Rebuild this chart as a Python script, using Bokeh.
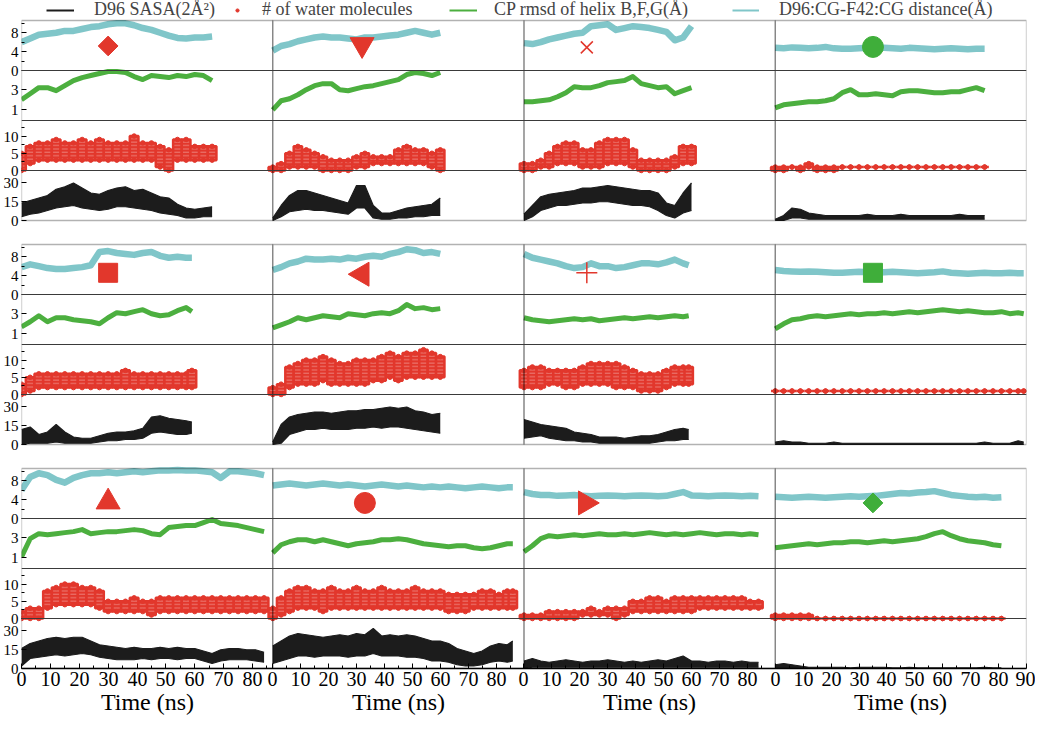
import math
from bokeh.plotting import figure
from bokeh.models import (Range1d, LinearAxis, FixedTicker, Legend, LegendItem,
                          BoxAnnotation, Span)
from bokeh.embed import file_html
from bokeh.resources import INLINE

FONT = "Liberation Serif"
C_SASA = "#1c1c1c"
C_WAT = "#e2372c"
C_RMSD = "#4caf3f"
C_DIST = "#80c6c9"
C_MARK_G = "#3fae3a"

LEGEND_LABELS = ["D96 SASA(2Å²)", "# of water molecules",
                 "CP rmsd of helix B,F,G(Å)", "D96:CG-F42:CG distance(Å)"]

# time axis tick labels for each column (ns)
X_TICKS_C123 = [0, 10, 20, 30, 40, 50, 60, 70, 80]
X_TICKS_C4 = [0, 10, 20, 30, 40, 50, 60, 70, 80, 90]
X_SPANS = [87, 90, 90, 90]

# ---------------- data (sampled every 3 ns, last point = end of run) --------
# Row 1
r1c1_end = 66
r1c1_dist = [6.0, 6.8, 7.6, 7.8, 8.0, 8.4, 8.4, 8.8, 9.2, 9.4, 9.8, 10.0, 10.0, 9.6, 9.0, 8.6, 8.0, 7.4, 6.9, 6.8, 7.0, 7.0, 7.2]
r1c1_rmsd = [2.0, 2.6, 3.2, 3.2, 2.9, 3.4, 3.9, 4.2, 4.4, 4.6, 4.8, 4.8, 4.7, 4.3, 4.0, 4.4, 4.3, 4.2, 4.4, 4.3, 4.5, 4.4, 3.9]
r1c1_wat_lo = [0, 2, 3, 3, 3, 3, 3, 3, 3, 3, 3, 3, 3, 3, 3, 3, 1, 0, 3, 3, 3, 3, 3]
r1c1_wat_hi = [5, 7, 8, 8, 9, 8, 8, 9, 8, 9, 8, 8, 8, 10, 8, 8, 7, 6, 9, 9, 7, 7, 7]
r1c1_sasa_lo = [3, 5, 6, 8, 10, 11, 12, 10, 9, 8, 9, 11, 11, 10, 9, 8, 6, 5, 4, 2, 2, 3, 3]
r1c1_sasa_hi = [14, 16, 18, 20, 25, 27, 30, 26, 22, 21, 24, 26, 27, 24, 25, 22, 19, 18, 13, 10, 9, 10, 11]

r1c2_end = 60
r1c2_dist = [4.2, 5.2, 5.6, 6.2, 6.6, 7.0, 7.2, 7.0, 7.0, 6.8, 6.6, 7.0, 7.0, 7.2, 7.4, 7.6, 8.0, 8.4, 8.0, 7.6, 8.0]
r1c2_rmsd = [1.0, 1.9, 2.1, 2.5, 3.0, 3.4, 3.6, 3.6, 3.0, 2.9, 3.1, 3.3, 3.4, 3.6, 3.8, 4.0, 4.5, 4.7, 4.6, 4.4, 4.7]
r1c2_wat_lo = [0, 0, 1, 1, 1, 1, 0, 0, 0, 0, 1, 1, 2, 2, 2, 2, 2, 2, 2, 1, 0]
r1c2_wat_hi = [1, 2, 5, 7, 6, 5, 4, 3, 3, 3, 4, 5, 4, 4, 4, 6, 7, 6, 6, 5, 6]
r1c2_sasa_lo = [0, 3, 7, 8, 9, 8, 8, 7, 6, 5, 10, 10, 2, 1, 1, 2, 2, 3, 3, 4, 4]
r1c2_sasa_hi = [2, 12, 20, 24, 24, 22, 20, 18, 16, 14, 28, 28, 12, 6, 6, 8, 10, 11, 12, 13, 18]

r1c3_end = 60
r1c3_dist = [5.8, 5.6, 6.0, 6.6, 7.0, 7.4, 7.8, 8.0, 9.4, 9.6, 9.8, 8.6, 9.0, 9.4, 9.2, 9.0, 8.6, 8.2, 6.4, 7.0, 9.4]
r1c3_rmsd = [1.8, 1.8, 1.9, 2.0, 2.3, 2.7, 3.3, 3.2, 3.2, 3.4, 3.7, 3.8, 3.9, 4.3, 3.6, 3.4, 3.2, 3.3, 2.6, 2.9, 3.2]
r1c3_wat_lo = [0, 0, 1, 1, 2, 2, 2, 1, 1, 1, 2, 2, 2, 1, 0, 0, 0, 0, 1, 2, 2]
r1c3_wat_hi = [2, 2, 3, 5, 7, 8, 8, 6, 6, 8, 9, 9, 9, 6, 3, 3, 3, 3, 4, 7, 7]
r1c3_sasa_lo = [0, 3, 8, 10, 12, 12, 13, 14, 14, 15, 15, 14, 13, 12, 12, 11, 8, 4, 2, 6, 8]
r1c3_sasa_hi = [5, 12, 19, 21, 22, 23, 24, 26, 26, 27, 28, 27, 26, 25, 24, 24, 22, 14, 12, 22, 30]

r1c4_end = 75
r1c4_dist = [4.8, 4.7, 4.9, 4.8, 4.7, 4.8, 5.0, 4.7, 4.6, 4.6, 4.7, 4.8, 4.9, 4.8, 4.7, 4.6, 4.8, 4.7, 4.6, 4.5, 4.6, 4.7, 4.6, 4.5, 4.6, 4.6]
r1c4_rmsd = [1.2, 1.5, 1.6, 1.7, 1.8, 1.8, 1.9, 2.1, 2.7, 3.0, 2.5, 2.5, 2.6, 2.5, 2.4, 2.8, 2.9, 2.9, 2.8, 2.7, 2.7, 2.8, 2.8, 3.0, 3.2, 2.9]
r1c4_wat_lo = [0, 0, 1, 0, 1, 0, 0, 0, 1, 1, 1, 1, 1, 1, 1, 1, 1, 1, 1, 1, 1, 1, 1, 1, 1, 1]
r1c4_wat_hi = [1, 1, 1, 1, 2, 1, 1, 1, 1, 1, 1, 1, 1, 1, 1, 1, 1, 1, 1, 1, 1, 1, 1, 1, 1, 1]
r1c4_sasa_lo = [0, 0, 2, 2, 1, 1, 1, 1, 1, 1, 1, 1, 1, 1, 1, 1, 1, 1, 1, 1, 1, 1, 1, 1, 1, 1]
r1c4_sasa_hi = [1, 4, 10, 9, 6, 5, 4, 4, 4, 4, 4, 5, 4, 4, 4, 5, 4, 4, 4, 4, 4, 4, 5, 4, 4, 4]

# Row 2
r2c1_end = 59
r2c1_dist = [5.8, 6.4, 6.0, 5.6, 5.4, 5.4, 5.6, 5.8, 6.2, 9.0, 9.2, 8.8, 8.6, 8.4, 8.8, 9.0, 8.2, 7.8, 8.0, 7.8, 7.8]
r2c1_rmsd = [1.7, 2.2, 2.8, 2.2, 2.6, 2.6, 2.4, 2.3, 2.2, 2.0, 2.6, 3.1, 3.0, 3.2, 3.4, 3.0, 2.8, 2.9, 3.3, 3.6, 3.2]
r2c1_wat_lo = [0, 1, 2, 2, 2, 2, 2, 2, 2, 2, 2, 2, 2, 2, 2, 2, 2, 2, 2, 2, 2]
r2c1_wat_hi = [3, 5, 6, 6, 6, 6, 6, 6, 6, 6, 6, 6, 7, 6, 6, 6, 6, 6, 6, 6, 7]
r2c1_sasa_lo = [0, 1, 1, 1, 2, 1, 1, 1, 1, 2, 3, 3, 4, 4, 5, 9, 10, 9, 8, 8, 9]
r2c1_sasa_hi = [12, 14, 8, 10, 16, 10, 6, 5, 5, 7, 9, 10, 10, 11, 13, 22, 23, 21, 20, 19, 18]

r2c2_end = 60
r2c2_dist = [5.2, 5.8, 6.6, 7.0, 7.6, 7.4, 7.4, 7.6, 7.4, 7.8, 7.6, 8.0, 8.2, 8.0, 8.6, 9.0, 9.6, 9.4, 8.8, 9.0, 8.6]
r2c2_rmsd = [1.6, 1.9, 2.2, 2.6, 2.4, 2.6, 2.8, 2.7, 2.6, 3.0, 2.9, 2.8, 3.0, 3.1, 3.0, 3.3, 3.9, 3.5, 3.6, 3.4, 3.5]
r2c2_wat_lo = [0, 0, 2, 3, 3, 3, 4, 3, 3, 3, 3, 3, 4, 4, 5, 4, 5, 5, 5, 5, 5]
r2c2_wat_hi = [2, 3, 8, 9, 10, 10, 11, 10, 9, 9, 10, 10, 10, 11, 12, 11, 12, 12, 13, 12, 11]
r2c2_sasa_lo = [0, 1, 8, 10, 12, 12, 13, 12, 12, 12, 13, 13, 14, 13, 14, 14, 13, 12, 11, 10, 9]
r2c2_sasa_hi = [2, 16, 22, 24, 25, 26, 26, 25, 26, 27, 27, 28, 28, 29, 30, 29, 30, 27, 26, 24, 25]

r2c3_end = 59
r2c3_dist = [8.6, 7.8, 7.4, 7.0, 6.6, 6.0, 5.6, 5.8, 6.6, 6.0, 6.0, 5.6, 5.8, 6.2, 6.6, 6.6, 6.4, 6.8, 7.4, 6.6, 6.2]
r2c3_rmsd = [2.6, 2.4, 2.3, 2.2, 2.3, 2.4, 2.5, 2.4, 2.5, 2.3, 2.4, 2.5, 2.6, 2.5, 2.6, 2.7, 2.6, 2.7, 2.8, 2.7, 2.8]
r2c3_wat_lo = [2, 2, 2, 3, 3, 2, 2, 3, 3, 3, 3, 2, 2, 2, 1, 1, 1, 2, 3, 3, 3]
r2c3_wat_hi = [7, 8, 8, 7, 7, 7, 7, 8, 9, 9, 9, 9, 8, 7, 6, 6, 6, 7, 8, 8, 8]
r2c3_sasa_lo = [5, 6, 7, 5, 4, 3, 3, 2, 2, 1, 1, 1, 1, 1, 1, 1, 2, 3, 3, 4, 4]
r2c3_sasa_hi = [20, 18, 16, 15, 14, 13, 10, 9, 8, 6, 6, 6, 5, 6, 7, 7, 8, 10, 12, 13, 12]

r2c4_end = 89
r2c4_dist = [5.2, 5.0, 4.9, 4.8, 4.9, 4.8, 4.7, 4.6, 4.6, 4.7, 4.8, 4.7, 4.6, 4.7, 4.8, 4.7, 4.6, 4.5, 4.6, 4.7, 4.9, 4.6, 4.5, 4.4, 4.5, 4.6, 4.5, 4.5, 4.6, 4.5, 4.5]
r2c4_rmsd = [1.5, 2.0, 2.4, 2.5, 2.7, 2.8, 2.7, 2.8, 2.9, 3.0, 2.9, 3.0, 3.0, 3.1, 3.0, 3.1, 3.2, 3.1, 3.2, 3.3, 3.4, 3.3, 3.2, 3.3, 3.2, 3.1, 3.1, 3.2, 3.0, 3.1, 3.0]
r2c4_wat_lo = [1, 1, 1, 1, 1, 1, 1, 1, 1, 1, 1, 1, 1, 1, 1, 1, 1, 1, 1, 1, 1, 1, 1, 1, 1, 1, 1, 1, 1, 1, 1]
r2c4_wat_hi = [1, 1, 1, 1, 1, 1, 1, 1, 1, 1, 1, 1, 1, 1, 1, 1, 1, 1, 1, 1, 1, 1, 1, 1, 1, 1, 1, 1, 1, 1, 1]
r2c4_sasa_lo = [0, 0, 0, 0, 0, 0, 0, 0, 0, 0, 0, 0, 0, 0, 0, 0, 0, 0, 0, 0, 0, 0, 0, 0, 0, 0, 0, 0, 0, 0, 0]
r2c4_sasa_hi = [2, 3, 2, 2, 1, 1, 1, 2, 1, 1, 1, 1, 1, 1, 1, 1, 1, 1, 1, 1, 1, 1, 1, 1, 1, 2, 1, 1, 1, 3, 2]

# Row 3
r3c1_end = 84
r3c1_dist = [6.0, 8.8, 9.6, 9.2, 8.2, 7.6, 8.6, 9.2, 9.6, 9.6, 9.8, 9.6, 9.8, 10.0, 9.8, 10.0, 10.2, 10.2, 10.3, 10.2, 10.2, 10.0, 9.8, 8.6, 10.0, 10.0, 9.8, 9.6, 9.2]
r3c1_rmsd = [1.1, 2.9, 3.4, 3.3, 3.4, 3.5, 3.6, 3.8, 3.4, 3.5, 3.6, 3.6, 3.7, 3.8, 3.7, 3.4, 3.3, 4.0, 4.1, 4.2, 4.2, 4.5, 4.8, 4.4, 4.3, 4.2, 4.0, 3.8, 3.6]
r3c1_wat_lo = [0, 0, 0, 3, 4, 4, 4, 4, 4, 3, 2, 2, 2, 2, 2, 1, 2, 2, 2, 2, 2, 2, 2, 2, 2, 2, 2, 2, 2]
r3c1_wat_hi = [2, 3, 3, 8, 9, 10, 10, 9, 9, 8, 5, 5, 5, 6, 5, 5, 6, 6, 6, 6, 6, 6, 6, 6, 6, 6, 6, 6, 6]
r3c1_sasa_lo = [2, 8, 9, 10, 11, 10, 11, 12, 11, 9, 8, 7, 7, 7, 8, 7, 8, 8, 7, 8, 8, 6, 4, 6, 7, 7, 7, 6, 5]
r3c1_sasa_hi = [16, 20, 22, 24, 25, 24, 25, 25, 22, 19, 18, 17, 16, 17, 16, 16, 17, 16, 17, 16, 16, 14, 12, 15, 16, 16, 15, 15, 13]

r3c2_end = 86
r3c2_dist = [7.0, 7.2, 7.4, 7.2, 7.0, 7.2, 7.4, 7.2, 7.0, 7.2, 7.0, 6.8, 7.0, 7.2, 7.0, 6.8, 7.0, 6.8, 6.6, 6.8, 6.6, 6.8, 6.6, 6.4, 6.6, 6.8, 6.6, 6.4, 6.6, 6.6]
r3c2_rmsd = [1.5, 2.3, 2.6, 2.8, 2.8, 2.6, 2.8, 2.6, 2.4, 2.2, 2.4, 2.5, 2.6, 2.8, 2.8, 2.9, 2.8, 2.6, 2.4, 2.3, 2.2, 2.1, 2.2, 2.2, 2.0, 1.9, 2.0, 2.2, 2.4, 2.4]
r3c2_wat_lo = [0, 1, 2, 3, 3, 3, 2, 3, 3, 3, 3, 3, 3, 3, 3, 3, 3, 3, 3, 3, 3, 2, 2, 2, 3, 3, 3, 3, 3, 3]
r3c2_wat_hi = [3, 6, 8, 9, 9, 8, 8, 9, 8, 8, 9, 8, 8, 9, 8, 8, 8, 9, 8, 8, 8, 7, 7, 7, 7, 8, 8, 7, 8, 8]
r3c2_sasa_lo = [4, 6, 8, 10, 10, 9, 10, 10, 10, 9, 10, 10, 12, 10, 10, 10, 9, 9, 8, 6, 6, 5, 3, 2, 2, 3, 5, 6, 5, 6]
r3c2_sasa_hi = [18, 22, 26, 28, 27, 26, 25, 26, 27, 26, 28, 27, 32, 26, 27, 26, 27, 26, 24, 22, 22, 20, 16, 14, 12, 14, 18, 20, 19, 22]

r3c3_end = 84
r3c3_dist = [5.6, 5.2, 5.0, 5.0, 4.8, 4.9, 5.0, 4.8, 4.7, 4.8, 4.9, 4.8, 4.7, 4.8, 4.9, 4.8, 4.7, 4.8, 5.2, 5.6, 4.9, 4.8, 4.7, 4.8, 4.9, 4.8, 4.7, 4.8, 4.7]
r3c3_rmsd = [1.6, 2.2, 2.9, 3.2, 3.1, 3.2, 3.3, 3.2, 3.3, 3.4, 3.3, 3.3, 3.4, 3.3, 3.4, 3.5, 3.4, 3.3, 3.4, 3.3, 3.4, 3.5, 3.4, 3.3, 3.4, 3.4, 3.3, 3.4, 3.3]
r3c3_wat_lo = [0, 0, 0, 0, 0, 0, 0, 1, 1, 1, 1, 0, 1, 2, 2, 2, 2, 2, 2, 2, 2, 3, 3, 3, 3, 3, 3, 3, 3]
r3c3_wat_hi = [1, 1, 1, 2, 2, 2, 2, 2, 3, 2, 3, 3, 3, 5, 5, 6, 6, 5, 6, 6, 6, 6, 6, 6, 6, 6, 6, 5, 5]
r3c3_sasa_lo = [0, 1, 1, 1, 1, 1, 1, 1, 1, 1, 1, 1, 1, 1, 1, 1, 1, 1, 1, 1, 1, 1, 1, 1, 1, 1, 1, 1, 1]
r3c3_sasa_hi = [6, 8, 6, 5, 6, 7, 6, 5, 6, 6, 7, 6, 5, 6, 5, 6, 7, 6, 8, 10, 6, 6, 5, 6, 6, 5, 6, 5, 5]

r3c4_end = 81
r3c4_dist = [4.6, 4.5, 4.4, 4.5, 4.6, 4.5, 4.4, 4.5, 4.6, 4.7, 4.6, 4.7, 4.8, 5.0, 5.2, 5.4, 5.3, 5.5, 5.6, 5.8, 5.4, 5.0, 4.8, 4.6, 4.5, 4.6, 4.4, 4.5]
r3c4_rmsd = [2.0, 2.1, 2.2, 2.3, 2.4, 2.3, 2.4, 2.5, 2.5, 2.6, 2.6, 2.5, 2.6, 2.7, 2.6, 2.7, 2.8, 2.9, 3.1, 3.4, 3.6, 3.2, 2.9, 2.7, 2.6, 2.5, 2.3, 2.2]
r3c4_wat_lo = [0, 0, 0, 0, 0, 0, 0, 0, 0, 0, 0, 0, 0, 0, 0, 0, 0, 0, 0, 0, 0, 0, 0, 0, 0, 0, 0, 0]
r3c4_wat_hi = [1, 1, 1, 1, 1, 0, 0, 0, 0, 0, 0, 0, 0, 0, 0, 0, 0, 0, 0, 0, 0, 0, 0, 0, 0, 0, 0, 0]
r3c4_sasa_lo = [0, 0, 0, 0, 0, 0, 0, 0, 0, 0, 0, 0, 0, 0, 0, 0, 0, 0, 0, 0, 0, 0, 0, 0, 0, 0, 0, 0]
r3c4_sasa_hi = [3, 4, 3, 2, 1, 1, 1, 1, 1, 0.5, 1, 1, 1, 1, 0.5, 0.5, 1, 0.5, 0.5, 0.5, 0.5, 0.5, 0.5, 0.5, 0.5, 1, 0.5, 0.5]

# panel markers (symbol, colour, time ns, distance value)
MARK_KIND = [["diamond", "inverted_triangle", "x", "circle"],
             ["square", "tri_left", "cross", "square"],
             ["triangle", "circle", "tri_right", "diamond"]]
MARK_GREEN = [[False, False, False, True], [False, False, False, True], [False, False, False, True]]
MARK_T = [[30, 32, 22.5, 35], [30, 32, 22.5, 35], [30, 33, 22, 35]]
MARK_V = [[5.2, 5.5, 4.9, 5.0], [4.6, 4.3, 4.6, 4.6], [3.5, 3.3, 3.3, 3.3]]

g = globals()
PANELS = [[{k: g[f"r{r}c{c}_{k}"] for k in
            ["end", "dist", "rmsd", "wat_lo", "wat_hi", "sasa_lo", "sasa_hi"]}
           for c in range(1, 5)] for r in range(1, 4)]


def tgrid(end):
    t = list(range(0, end + 1, 3))
    if t[-1] != end:
        t.append(end)
    return t


# ---------------- layout (frame pixels) ----------------
FW, FH = 1005, 668
ROW_TOP = [20, 244, 468]
SH = 50
CW = FW / 4
STRIPS = ["dist", "rmsd", "wat", "sasa"]
YR = {"dist": (0, 10.6), "rmsd": (-0.05, 4.9), "wat": (0, 14.5), "sasa": (0, 40)}
YT = {"dist": ([0, 4, 8], [2, 6, 10]), "rmsd": ([1, 3], []),
      "wat": ([0, 5, 10], [2.5, 7.5, 12.5]), "sasa": ([0, 15, 30], [])}

p = figure(frame_width=FW, frame_height=FH, x_range=Range1d(0, FW), y_range=Range1d(0, FH),
           output_backend="svg", toolbar_location=None,
           x_axis_location=None, y_axis_location=None,
           min_border_left=19, min_border_right=9, min_border_top=0, min_border_bottom=0)
p.outline_line_color = None
p.grid.visible = False
p.background_fill_color = "white"
p.border_fill_color = "white"

xr = {}
for c in range(4):
    k = X_SPANS[c] / CW
    x0 = c * CW
    xr[f"c{c}"] = Range1d(start=-x0 * k, end=(FW - x0) * k)
p.extra_x_ranges = xr


def strip_bottom(r, s):
    return FH - (ROW_TOP[r] + SH * (s + 1))


yrs = {}
for r in range(3):
    for s, name in enumerate(STRIPS):
        lo, hi = YR[name]
        b0 = strip_bottom(r, s)
        k = (hi - lo) / SH
        yrs[f"r{r}{name}"] = Range1d(start=lo - b0 * k, end=lo + (FH - b0) * k)
p.extra_y_ranges = yrs

# ---------------- data glyphs ----------------
for r in range(3):
    for c in range(4):
        d = PANELS[r][c]
        t = tgrid(d["end"])
        xn = f"c{c}"
        p.varea(x=t, y1=d["sasa_lo"], y2=d["sasa_hi"], fill_color=C_SASA,
                x_range_name=xn, y_range_name=f"r{r}sasa")
        p.line(t, d["sasa_hi"], line_color=C_SASA, line_width=1.2,
               x_range_name=xn, y_range_name=f"r{r}sasa")
        p.line(t, d["sasa_lo"], line_color=C_SASA, line_width=1.2,
               x_range_name=xn, y_range_name=f"r{r}sasa")
        p.vbar(x=t, width=3, bottom=d["wat_lo"], top=d["wat_hi"], fill_color=C_WAT,
               line_color=C_WAT, line_width=2.5, hatch_pattern="horizontal_line",
               hatch_color="white", hatch_alpha=0.35, hatch_scale=3.4, hatch_weight=1,
               x_range_name=xn, y_range_name=f"r{r}wat")
        p.scatter(t, d["wat_hi"], marker="circle", size=4.5, fill_color=C_WAT,
                  line_color=C_WAT, x_range_name=xn, y_range_name=f"r{r}wat")
        p.scatter(t, d["wat_lo"], marker="circle", size=4.5, fill_color=C_WAT,
                  line_color=C_WAT, x_range_name=xn, y_range_name=f"r{r}wat")
        p.line(t, d["rmsd"], line_color=C_RMSD, line_width=5, line_join="round",
               x_range_name=xn, y_range_name=f"r{r}rmsd")
        p.line(t, d["dist"], line_color=C_DIST, line_width=6.5, line_join="round",
               x_range_name=xn, y_range_name=f"r{r}dist")

        kind = MARK_KIND[r][c]
        col = C_MARK_G if MARK_GREEN[r][c] else C_WAT
        kw = dict(x=[MARK_T[r][c]], y=[MARK_V[r][c]], x_range_name=xn,
                  y_range_name=f"r{r}dist", fill_color=col, line_color=col)
        if kind == "diamond":
            p.scatter(marker="square", size=14, angle=math.pi / 4, **kw)
        elif kind == "square":
            p.scatter(marker="square", size=19, **kw)
        elif kind == "circle":
            p.scatter(marker="circle", size=21, **kw)
        elif kind == "triangle":
            p.scatter(marker="triangle", size=24, **kw)
        elif kind == "inverted_triangle":
            p.scatter(marker="inverted_triangle", size=24, **kw)
        elif kind == "tri_left":
            p.scatter(marker="triangle", size=24, angle=math.pi / 2, **kw)
        elif kind == "tri_right":
            p.scatter(marker="triangle", size=24, angle=-math.pi / 2, **kw)
        elif kind == "x":
            p.scatter(marker="x", size=17, line_width=1.5, **kw)
        elif kind == "cross":
            p.scatter(marker="cross", size=21, line_width=1.5, **kw)

# ---------------- panel frames ----------------
for r in range(3):
    top = FH - ROW_TOP[r]
    for c in range(4):
        p.add_layout(BoxAnnotation(left=c * CW, right=(c + 1) * CW, top=top, bottom=top - 4 * SH,
                                   fill_color=None, line_color="black", line_width=1.3))
    for s in range(3):
        p.add_layout(Span(location=strip_bottom(r, s), dimension="width",
                          line_color="#3a3a3a", line_width=1.2))

# ---------------- axes ----------------
ymaj, ymin, ylab = [], [], {}
for r in range(3):
    for s, name in enumerate(STRIPS):
        lo, hi = YR[name]
        b0 = strip_bottom(r, s)
        maj, mnr = YT[name]
        for v in maj:
            pos = int(round(b0 + (v - lo) / (hi - lo) * SH))
            ymaj.append(pos)
            ylab[pos] = str(v)
        for v in mnr:
            ymin.append(b0 + (v - lo) / (hi - lo) * SH)
yax = LinearAxis(ticker=FixedTicker(ticks=ymaj, minor_ticks=ymin), major_label_overrides=ylab,
                 axis_line_color=None, major_tick_in=5, major_tick_out=0,
                 minor_tick_in=3, minor_tick_out=0, major_label_standoff=3,
                 major_label_text_font=FONT, major_label_text_font_size="15px",
                 major_label_text_color="black")
p.add_layout(yax, "left")

xmaj, xmin, xlab = [], [], {}
for c in range(4):
    labels = X_TICKS_C4 if c == 3 else X_TICKS_C123
    for v in labels:
        pos = int(round(c * CW + v / X_SPANS[c] * CW))
        xmaj.append(pos)
        xlab[pos] = str(v)
        if v + 5 < X_SPANS[c]:
            xmin.append(c * CW + (v + 5) / X_SPANS[c] * CW)
xax = LinearAxis(ticker=FixedTicker(ticks=xmaj, minor_ticks=xmin), major_label_overrides=xlab,
                 axis_line_color="black", axis_line_width=1.3, major_tick_in=5, major_tick_out=0,
                 minor_tick_in=3, minor_tick_out=0, major_label_standoff=3,
                 major_label_text_font=FONT, major_label_text_font_size="20px",
                 major_label_text_color="black")
p.add_layout(xax, "below")

cmid, clab = [], {}
for c in range(4):
    pos = int(round((c + 0.5) * CW))
    cmid.append(pos)
    clab[pos] = "Time (ns)"
tax = LinearAxis(ticker=FixedTicker(ticks=cmid, minor_ticks=[]), major_label_overrides=clab,
                 axis_line_color=None, major_tick_line_color=None, minor_tick_line_color=None,
                 major_tick_in=0, major_tick_out=0, major_label_standoff=0,
                 major_label_text_font=FONT, major_label_text_font_size="24px",
                 major_label_text_color="black")
p.add_layout(tax, "below")

# ---------------- legend (one entry per Legend so each sits where the original puts it) -----
NAN = [float("nan")]
l_sasa = p.line(x=NAN, y=NAN, line_color=C_SASA, line_width=2)
l_wat = p.scatter(x=NAN, y=NAN, marker="circle", size=4, fill_color=C_WAT, line_color=C_WAT)
l_rmsd = p.line(x=NAN, y=NAN, line_color=C_RMSD, line_width=2)
l_dist = p.line(x=NAN, y=NAN, line_color=C_DIST, line_width=2)
LEG_X = [25, 211, 428, 711]
LEG_GW = [28, 10, 28, 27]
LEG_GH = [18, 8, 18, 18]
LEG_SO = [20, 20, 17, 20]
for i, rend in enumerate([l_sasa, l_wat, l_rmsd, l_dist]):
    lg = Legend(items=[LegendItem(label=LEGEND_LABELS[i], renderers=[rend])],
                orientation="horizontal", location=(LEG_X[i], FH - 20),
                padding=0, margin=0, spacing=0, glyph_width=LEG_GW[i], glyph_height=LEG_GH[i],
                label_height=18, label_standoff=LEG_SO[i], label_text_font=FONT,
                label_text_font_size="18px", border_line_color=None,
                background_fill_alpha=0)
    p.add_layout(lg, "center")

open("out.html", "w").write(file_html(p, INLINE))
